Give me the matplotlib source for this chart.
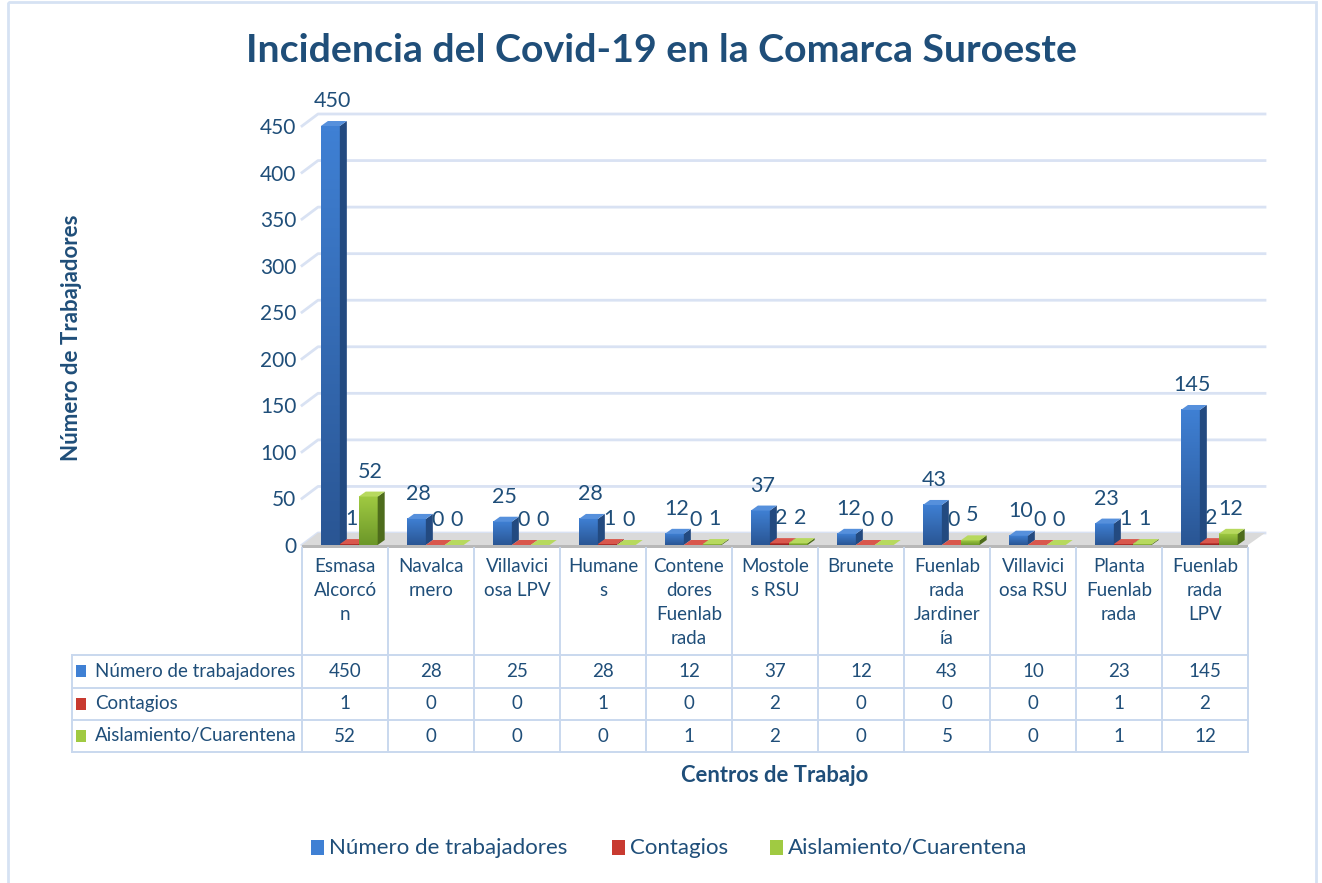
import numpy as np
import matplotlib
matplotlib.use('Agg')
import matplotlib.pyplot as plt
from matplotlib.patches import Polygon, Rectangle
from matplotlib.transforms import Affine2D, blended_transform_factory
from matplotlib.lines import Line2D
from matplotlib.colors import LinearSegmentedColormap

# ---------------- data ----------------
categories = ["Esmasa\nAlcorcó\nn", "Navalca\nrnero", "Villavici\nosa LPV", "Humane\ns",
              "Contene\ndores\nFuenlab\nrada", "Mostole\ns RSU", "Brunete",
              "Fuenlab\nrada\nJardiner\nía", "Villavici\nosa RSU", "Planta\nFuenlab\nrada",
              "Fuenlab\nrada\nLPV"]
series_names = ["Número de trabajadores", "Contagios", "Aislamiento/Cuarentena"]
trabajadores = [450, 28, 25, 28, 12, 37, 12, 43, 10, 23, 145]
contagios = [1, 0, 0, 1, 0, 2, 0, 0, 0, 1, 2]
aislamiento = [52, 0, 0, 0, 1, 2, 0, 5, 0, 1, 12]
yticks = list(range(0, 451, 50))

title = "Incidencia del Covid-19 en la Comarca Suroeste"
ylabel = "Número de Trabajadores"
xlabel = "Centros de Trabajo"

# ---------------- style ----------------
plt.rcParams['font.family'] = ['Lato', 'DejaVu Sans']
TXT = '#1F4E79'
GRID = '#D9E2F3'
TABLE = '#C9D8EE'
# front bottom, front top, side, top
COLS = [('#2A5694', '#3F80D4', '#234A80', '#5690DC'),
        ('#8C1E1E', '#C83A30', '#6E1515', '#D9574C'),
        ('#6C9729', '#A0CA42', '#4E6C1C', '#B7D95E')]

W, H = 1322, 883
fig = plt.figure(figsize=(W / 100, H / 100), dpi=100)
px = Affine2D().scale(1, -1).translate(0, H)  # pixel coords from top-left

X0, X1, Y0, Y1 = 302, 1248, 545, 126
ax = fig.add_axes([X0 / W, (H - Y0) / H, (X1 - X0) / W, (Y0 - Y1) / H])
ncat = len(categories)
ax.set_xlim(0, ncat)
ax.set_ylim(0, 450)
ax.patch.set_visible(False)
for s in ax.spines.values():
    s.set_visible(False)
sx = ncat / (X1 - X0)
sy = 450 / (Y0 - Y1)

# back wall gridlines
WDX, WDY = 16, 12
for v in yticks:
    ax.add_line(Line2D([0, WDX * sx, ncat + 17 * sx], [v, v + WDY * sy, v + WDY * sy],
                       color=GRID, lw=2, clip_on=False, zorder=0))

# floor
ax.add_patch(Polygon([(0, 0), (ncat, 0), (ncat + 17 * sx, WDY * sy), (WDX * sx, WDY * sy)],
                     closed=True, facecolor='#DADADA', edgecolor='none', clip_on=False, zorder=1))
ax.add_patch(Polygon([(0, -3 * sy), (ncat, -3 * sy), (ncat, 0), (0, 0)], closed=True,
                     facecolor='#B8B8B8', edgecolor='none', clip_on=False, zorder=1))

# bars
series = [trabajadores, contagios, aislamiento]
offs = [0.22, 0.44, 0.66]
bw = 0.22
DX, DY = 7 * sx, 5 * sy
grad = np.linspace(0, 1, 64).reshape(-1, 1)
z = 2
for i in range(ncat):
    for k, vals in enumerate(series):
        v = vals[i]
        x0 = i + offs[k]
        cb, ct, cs, ctop = COLS[k]
        if v > 0:
            cmap = LinearSegmentedColormap.from_list('g', [cb, ct])
            ax.imshow(grad, extent=(x0, x0 + bw, 0, v), origin='lower', aspect='auto',
                      cmap=cmap, interpolation='bilinear', zorder=z, clip_on=False)
            ax.add_patch(Polygon([(x0 + bw, 0), (x0 + bw + DX, DY), (x0 + bw + DX, v + DY), (x0 + bw, v)],
                                 closed=True, facecolor=cs, edgecolor='none', clip_on=False, zorder=z))
        ax.add_patch(Polygon([(x0, v), (x0 + bw, v), (x0 + bw + DX, v + DY), (x0 + DX, v + DY)],
                             closed=True, facecolor=ctop, edgecolor='none', clip_on=False, zorder=z))
        ax.annotate(str(v), xy=(x0 + bw / 2, v), xytext=(1.5, 18), textcoords='offset points',
                    ha='center', va='center', fontsize=15.5, color=TXT, zorder=50,
                    annotation_clip=False)
        z += 1

ax.set_xlim(0, ncat)
ax.set_ylim(0, 450)
ax.set_xticks([])
ax.set_yticks(yticks)
ax.tick_params(axis='y', length=0, pad=4, labelsize=15, labelcolor=TXT)

# ---------------- data table ----------------
tr = blended_transform_factory(ax.transData, px)
xr = ax.transData.transform((ncat, 0))[0]
TL = 72
rows_y = [655, 687.5, 720, 752]
for i in range(ncat + 1):
    fig.add_artist(Line2D([i, i], [548, 752], transform=tr, color=TABLE, lw=1.4))
fig.add_artist(Line2D([TL, TL], [rows_y[0], rows_y[-1]], transform=px, color=TABLE, lw=1.4))
for y in rows_y:
    fig.add_artist(Line2D([TL, xr], [y, y], transform=px, color=TABLE, lw=1.4))
for i, c in enumerate(categories):
    fig.text(i + 0.5, 558, c, transform=tr, ha='center', va='top', fontsize=13.5,
             color=TXT, linespacing=1.5)
for r, (name, vals) in enumerate(zip(series_names, series)):
    yc = (rows_y[r] + rows_y[r + 1]) / 2
    fig.add_artist(Rectangle((76, yc - 6), 10, 12, transform=px, facecolor=COLS[r][1],
                             edgecolor='none'))
    fig.text(95, yc, name, transform=px, ha='left', va='center', fontsize=13.5, color=TXT)
    for i, v in enumerate(vals):
        fig.text(i + 0.5, yc, str(v), transform=tr, ha='center', va='center',
                 fontsize=13.5, color=TXT)

# ---------------- titles ----------------
fig.text(661, 50, title, transform=px, ha='center', va='center', fontsize=28.3,
         fontweight='bold', color=TXT)
fig.text(72, 338, ylabel, transform=px, ha='center', va='center', rotation=90,
         fontsize=16, fontweight='bold', color=TXT)
fig.text(775, 775, xlabel, transform=px, ha='center', va='center', fontsize=15.8,
         fontweight='bold', color=TXT)

# ---------------- legend ----------------
leg_x = [311, 612, 770]
for k, name in enumerate(series_names):
    fig.add_artist(Rectangle((leg_x[k], 840), 13, 15, transform=px, facecolor=COLS[k][1],
                             edgecolor='none'))
    fig.text(leg_x[k] + 18, 848, name, transform=px, ha='left', va='center',
             fontsize=16, color=TXT)

# border
fig.add_artist(Rectangle((7.5, 1.5), 1308.5, 900, transform=px, facecolor='none',
                         edgecolor='#D6E2F3', lw=2))

fig.savefig('out.png', dpi=100)
